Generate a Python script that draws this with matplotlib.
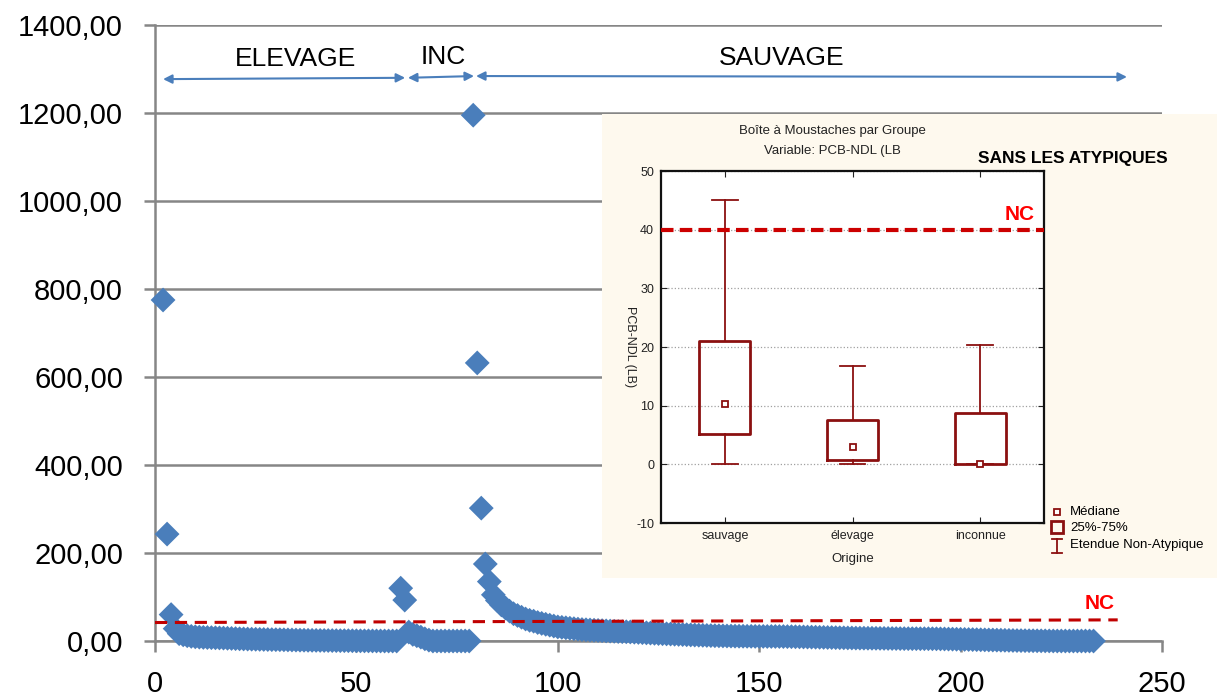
import matplotlib.pyplot as plt
import numpy as np

plt.rcParams['font.family'] = ['Liberation Sans', 'DejaVu Sans']
plt.rcParams['axes.unicode_minus'] = False

# PCB-NDL par echantillon, tries par groupe
elevage = [775, 243, 60, 28, 16.7, 14, 12, 10.5, 9.5, 8.8, 8.2, 7.9, 7.6, 7.3, 7.0,
           6.6, 6.2, 5.8, 5.4, 5.0, 4.7, 4.4, 4.1, 3.9, 3.7, 3.5, 3.3, 3.1, 3.0, 2.9,
           2.7, 2.5, 2.3, 2.1, 1.9, 1.8, 1.6, 1.5, 1.4, 1.3, 1.2, 1.1, 1.0, 0.9, 0.8,
           0.8, 0.7, 0.6, 0.5, 0.4, 0.3, 0.3, 0.2, 0.1, 0.1, 0.0, 0.0, 0.0, 0.0]
inconnu = [120, 93, 20.3, 15, 12, 8.8, 5, 2, 0, 0, 0, 0, 0, 0, 0, 0, 0, 0]
sauvage = [1195, 632, 302, 175, 135, 105, 92, 82, 75, 68, 62, 58, 54, 50, 47,
           45, 42, 40, 38, 36, 34, 32, 31, 30, 29,
           28, 27, 26, 25.5, 25, 24.5, 24, 23.5, 23, 22.5,
           22, 21.5, 21.2, 21, 20.5, 20, 19.5, 19, 18.5, 18,
           17.5, 17, 16.6, 16.2, 15.8, 15.4, 15, 14.6, 14.2, 13.8,
           13.5, 13.2, 12.9, 12.6, 12.3, 12, 11.8, 11.6, 11.4, 11.2,
           11, 10.9, 10.8, 10.7, 10.6, 10.5, 10.4, 10.4, 10.3, 10.3,
           10.3, 10.2, 10.1, 10, 9.8, 9.6, 9.4, 9.2, 9, 8.8,
           8.6, 8.4, 8.2, 8, 7.8, 7.6, 7.4, 7.2, 7, 6.8,
           6.6, 6.5, 6.4, 6.3, 6.2, 6.1, 6, 5.9, 5.8, 5.7,
           5.6, 5.5, 5.4, 5.4, 5.3, 5.3, 5.2, 5.2, 5.2, 5.1,
           5, 4.8, 4.6, 4.4, 4.2, 4, 3.8, 3.6, 3.4, 3.2,
           3, 2.8, 2.6, 2.4, 2.2, 2, 1.8, 1.6, 1.4, 1.2,
           1, 0.9, 0.8, 0.7, 0.6, 0.5, 0.4, 0.3, 0.2, 0.1,
           0, 0, 0, 0, 0, 0, 0, 0, 0, 0]
nc = 40

# boite a moustaches sans les atypiques
groupes = ['sauvage', 'élevage', 'inconnue']
w_bas = [0, 0, 0]
q1 = [5.2, 0.8, 0]
mediane = [10.3, 3.0, 0]
q3 = [21.0, 7.6, 8.8]
w_haut = [45.0, 16.7, 20.3]

yticks = [0, 200, 400, 600, 800, 1000, 1200, 1400]
xticks = [0, 50, 100, 150, 200, 250]
yticks_box = [-10, 0, 10, 20, 30, 40, 50]

bleu = '#4A7EBB'
gris = '#868686'
rouge = '#8B1010'
W, H = 1221, 700

fig = plt.figure(figsize=(W / 100, H / 100), dpi=100)

# ---- graphique principal ----
ax = fig.add_axes([155 / W, 1 - 641 / H, 1007 / W, 616 / H])
x_el = np.arange(2, 2 + len(elevage))
x_inc = np.arange(x_el[-1] + 1, x_el[-1] + 1 + len(inconnu))
x_sau = np.arange(x_inc[-1] + 1, x_inc[-1] + 1 + len(sauvage))
x_all = np.concatenate([x_el, x_inc, x_sau])
y_all = np.concatenate([elevage, inconnu, sauvage])
ax.scatter(x_all, y_all, marker='D', s=160, color=bleu, edgecolors='none',
           clip_on=False, zorder=3)

ax.set_xlim(0, 250)
ax.set_ylim(0, 1400)
ax.set_xticks(xticks)
ax.set_yticks(yticks)
ax.set_yticklabels([f'{v:.2f}'.replace('.', ',') for v in yticks])
ax.grid(axis='y', color=gris, lw=1.8)
ax.set_axisbelow(True)
for s in ['top', 'right']:
    ax.spines[s].set_visible(False)
for s in ['left', 'bottom']:
    ax.spines[s].set_color(gris)
    ax.spines[s].set_linewidth(1.8)
ax.tick_params(axis='y', length=8, width=1.8, color=gris, pad=15, labelsize=21)
ax.tick_params(axis='x', length=8, width=1.8, color=gris, pad=13, labelsize=21)

# ligne NC
ax.plot([0, 239], [42, 48], ls=(0, (4, 2.5)), color='#C00000', lw=2.2, zorder=4)
ax.text(234.5, 86, 'NC', color='#FF0000', fontsize=15, fontweight='bold',
        ha='center', va='center', zorder=5)

# fleches des groupes
def fleche(x1, y1, x2, y2):
    ax.annotate('', xy=(x2, y2), xytext=(x1, y1), annotation_clip=False,
                arrowprops=dict(arrowstyle='<|-|>', color=bleu, lw=1.5,
                                mutation_scale=13, shrinkA=0, shrinkB=0))

fleche(2, 1277, 62.1, 1280)
fleche(62.8, 1280, 79.2, 1284)
fleche(79.7, 1284, 241.3, 1282)
ax.text(35, 1322, 'ELEVAGE', fontsize=19, ha='center', va='center')
ax.text(71.5, 1328, 'INC', fontsize=19, ha='center', va='center')
ax.text(155.5, 1326, 'SAUVAGE', fontsize=19, ha='center', va='center')

# ---- encart (fond beige, coordonnees en pixels) ----
panel = fig.add_axes([602 / W, 1 - 578 / H, (1217 - 602) / W, (578 - 114) / H])
panel.set_facecolor('#FEF9EE')
panel.set_xlim(602, 1217)
panel.set_ylim(578, 114)
panel.set_xticks([])
panel.set_yticks([])
for s in panel.spines.values():
    s.set_visible(False)

panel.text(832, 131, 'Boîte à Moustaches par Groupe', fontsize=9.5,
           ha='center', va='center', color='#222222')
panel.text(832, 151, 'Variable: PCB-NDL (LB', fontsize=9.5,
           ha='center', va='center', color='#222222')
panel.text(978, 158, 'SANS LES ATYPIQUES', fontsize=12.5, fontweight='bold',
           ha='left', va='center')

# legende
panel.plot([1057], [512], marker='s', ms=5, mfc='white', mec=rouge, mew=1.3)
panel.plot([1057], [527], marker='s', ms=9, mfc='none', mec=rouge, mew=2)
panel.plot([1057, 1057], [539, 553], color=rouge, lw=1.3)
panel.plot([1052, 1062], [539, 539], color=rouge, lw=1.3)
panel.plot([1052, 1062], [553, 553], color=rouge, lw=1.3)
panel.text(1070, 512, 'Médiane', fontsize=9.5, va='center', clip_on=False)
panel.text(1070, 528, '25%-75%', fontsize=9.5, va='center', clip_on=False)
panel.text(1070, 545, 'Etendue Non-Atypique', fontsize=9.5, va='center', clip_on=False)

# boite a moustaches
bx = fig.add_axes([661 / W, 1 - 523 / H, 383 / W, 352 / H])
stats = []
for i in range(len(groupes)):
    stats.append(dict(whislo=w_bas[i], q1=q1[i], med=mediane[i], mean=mediane[i],
                      q3=q3[i], whishi=w_haut[i], fliers=[]))
bx.bxp(stats, positions=[1, 2, 3], widths=0.4, capwidths=0.2,
       showmeans=True, showfliers=False, patch_artist=False,
       boxprops=dict(color=rouge, lw=2),
       whiskerprops=dict(color=rouge, lw=1.3),
       capprops=dict(color=rouge, lw=1.3),
       medianprops=dict(visible=False),
       meanprops=dict(marker='s', markersize=5, markerfacecolor='white',
                      markeredgecolor=rouge, markeredgewidth=1.3))
bx.axhline(nc, color='#CC0000', lw=3, ls=(0, (3, 1.5)), zorder=4)
bx.text(3.43, 42.5, 'NC', color='#FF0000', fontsize=15, fontweight='bold',
        ha='right', va='center')

bx.set_xlim(0.5, 3.5)
bx.set_ylim(-10, 50)
bx.set_yticks(yticks_box)
bx.set_xticks([1, 2, 3])
bx.set_xticklabels(groupes)
bx.yaxis.grid(True, ls=':', color='#A0A0A0', lw=0.9)
bx.set_axisbelow(True)
bx.tick_params(direction='in', top=True, right=True, length=4, labelsize=9,
               colors='#222222', pad=5)
for s in bx.spines.values():
    s.set_linewidth(1.6)
    s.set_color('#111111')
bx.set_xlabel('Origine', fontsize=9.5, color='#222222', labelpad=8)
bx.set_ylabel('PCB-NDL (LB)', fontsize=9, rotation=270, color='#222222',
              labelpad=4, va='center')

fig.savefig('out.png', dpi=100)
